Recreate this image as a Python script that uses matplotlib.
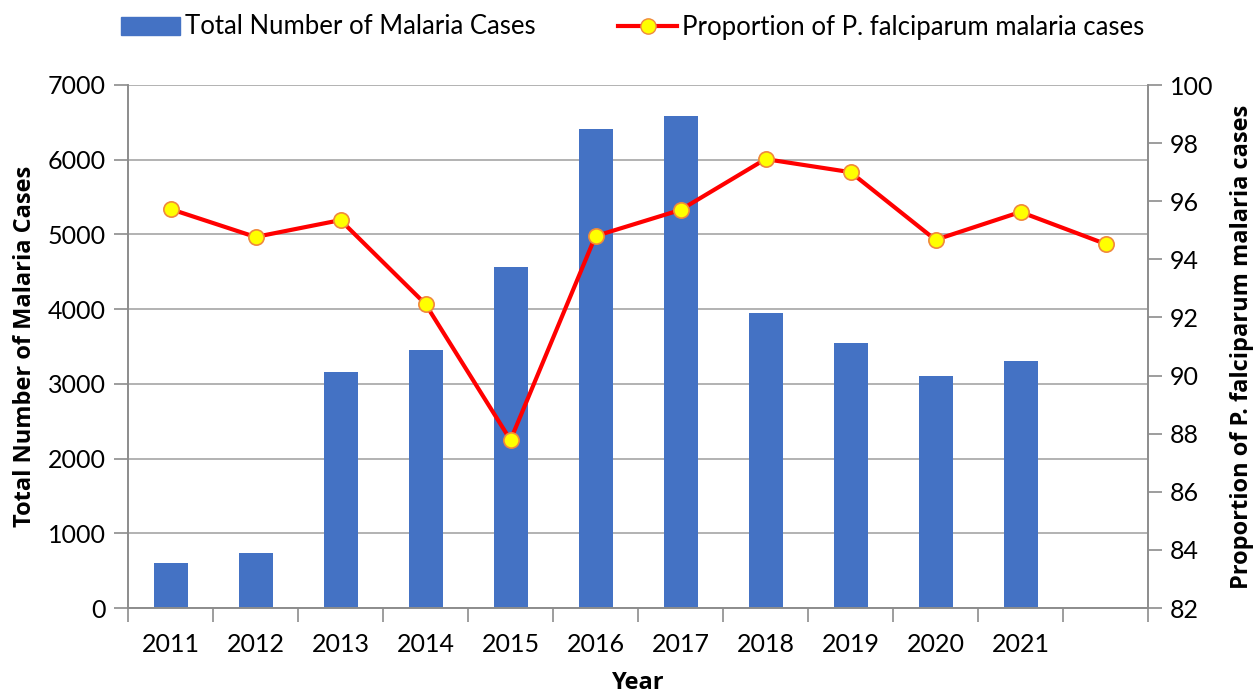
import matplotlib.pyplot as plt
from matplotlib.lines import Line2D
from matplotlib.patches import Patch

plt.rcParams['font.family'] = ['Lato', 'DejaVu Sans']

years = ["2011", "2012", "2013", "2014", "2015", "2016",
         "2017", "2018", "2019", "2020", "2021", ""]
cases = [602, 736, 3160, 3450, 4565, 6410, 6585, 3950, 3550, 3100, 3300]
pf_share = [95.73, 94.77, 95.35, 92.46, 87.78, 94.8,
            95.70, 97.45, 97.0, 94.67, 95.63, 94.53]

grey = "#8c8c8c"
bold = dict(family=["Open Sans", "DejaVu Sans"], fontweight="bold", fontsize=17)

fig = plt.figure(figsize=(12.58, 6.97), dpi=100)
ax = fig.add_axes([128 / 1258, 1 - 608 / 697, 1020 / 1258, 523 / 697])
ax2 = ax.twinx()

x = list(range(len(years)))
ax.bar(x[:len(cases)], cases, 0.4, color="#4472c4", zorder=2)
ax2.plot(x, pf_share, color="#ff0000", lw=3, marker="o", ms=11,
         mfc="#ffff00", mec="#f0883c", mew=1.2, zorder=3)

ax.set_xlim(-0.5, len(years) - 0.5)
ax.set_ylim(0, 7000)
ax.set_yticks(range(0, 7001, 1000))
ax2.set_ylim(82, 100)
ax2.set_yticks(range(82, 101, 2))

ax.set_xticks([i - 0.5 for i in range(len(years) + 1)], minor=False)
ax.set_xticklabels([])
ax.set_xticks(x, minor=True)
ax.set_xticklabels(years, minor=True)
ax.tick_params(axis="x", which="major", length=10, color=grey, width=1.2)
ax.tick_params(axis="x", which="minor", length=0, labelsize=18, pad=18)
ax.tick_params(axis="y", length=10, color=grey, width=1.2, labelsize=18, pad=6)
ax2.tick_params(axis="y", length=10, color=grey, width=1.2, labelsize=18, pad=6)

ax.grid(axis="y", color="#a6a6a6", lw=1.2, zorder=0)
ax.set_axisbelow(True)
for a in (ax, ax2):
    a.spines["top"].set_visible(False)
    for s in ("left", "right", "bottom"):
        a.spines[s].set_color(grey)
        a.spines[s].set_linewidth(1.2)

ax.set_xlabel("Year", labelpad=11, **bold)
ax.set_ylabel("Total Number of Malaria Cases", labelpad=8, **bold)
ax2.set_ylabel("Proportion of P. falciparum malaria cases", labelpad=12, **bold)

handles = [
    Patch(color="#4472c4", label="Total Number of Malaria Cases"),
    Line2D([], [], color="#ff0000", lw=3, marker="o", ms=11, mfc="#ffff00",
           mec="#f0883c", label="Proportion of P. falciparum malaria cases"),
]
fig.legend(handles=handles, loc="center", bbox_to_anchor=(0.503, 1 - 27 / 697),
           ncol=2, frameon=False, fontsize=18.5, handlelength=2.3,
           handletextpad=0.2, columnspacing=3.2)

fig.savefig("out.png", dpi=100)
